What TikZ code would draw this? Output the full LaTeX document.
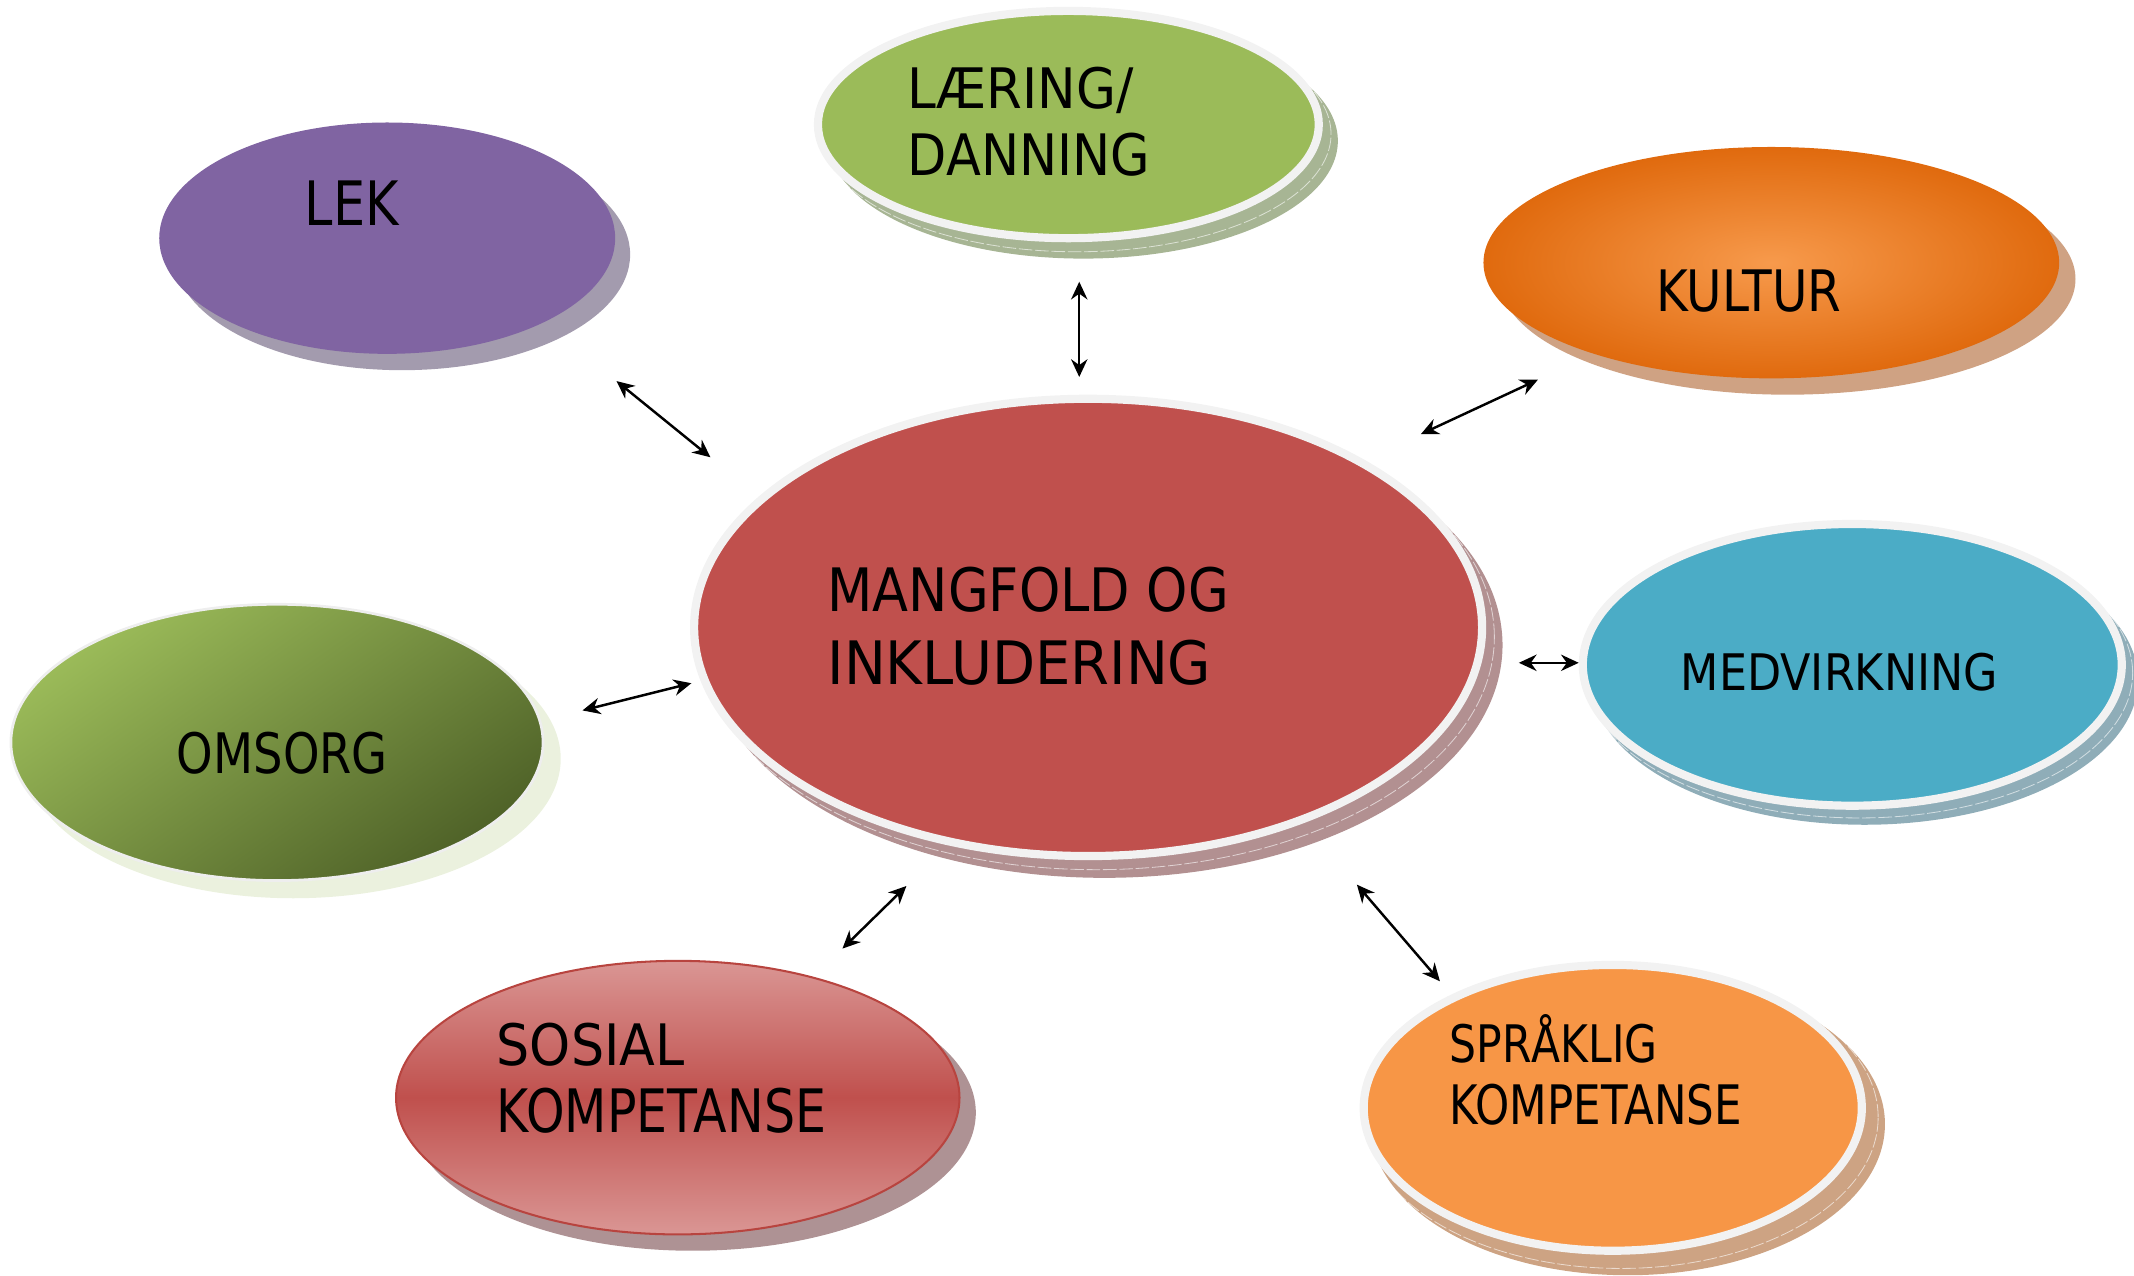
\documentclass[tikz,border=0pt]{standalone}
\usepackage{fontspec}
\usepackage{graphicx}
\setmainfont{DejaVu Sans}
\usetikzlibrary{shapes.geometric,arrows.meta}
\definecolor{lekfill}{HTML}{8064A2}
\definecolor{lekshadow}{HTML}{A39BAE}
\definecolor{laerfill}{HTML}{9BBB59}
\definecolor{laershadow}{HTML}{A7B594}
\definecolor{kulturlight}{HTML}{F79A4C}
\definecolor{kulturdark}{HTML}{E06A0E}
\definecolor{kulturshadow}{HTML}{CFA283}
\definecolor{medvfill}{HTML}{4BACC6}
\definecolor{medvshadow}{HTML}{8FADB8}
\definecolor{omsorglight}{HTML}{9BBB59}
\definecolor{omsorgdark}{HTML}{4F6228}
\definecolor{omsorgshadow}{HTML}{EBF1DE}
\definecolor{omsorgring}{HTML}{EEEEEE}
\definecolor{mangfill}{HTML}{C0504D}
\definecolor{mangshadow}{HTML}{B29091}
\definecolor{soslight}{HTML}{DA9694}
\definecolor{sosmid}{HTML}{C0504D}
\definecolor{sosborder}{HTML}{B8443F}
\definecolor{sosshadow}{HTML}{AE9294}
\definecolor{sprfill}{HTML}{F79646}
\definecolor{sprshadow}{HTML}{CDA383}
\definecolor{ringc}{HTML}{F2F2F2}
\newsavebox\labbox
\newcommand\fitlab[3]{\sbox\labbox{\fontsize{#2pt}{#2pt}\selectfont #3}\scalebox{\fpeval{(#1)/(\the\wd\labbox)}}[1]{\usebox\labbox}}
\begin{document}
\begin{tikzpicture}[x=1pt,y=-1pt,
  blob/.style={ellipse, inner sep=0pt, outer sep=0pt},
  ringed/.style={draw=ringc, line width=6pt},
  stackline/.style={draw=white, draw opacity=0.6, line width=0.6pt, dash pattern=on 10pt off 2pt},
  lbl/.style={anchor=base west, inner sep=0pt, outer sep=0pt, text=black},
  conn/.style={line width=1.8pt, {Stealth[length=13pt,width=12pt]}-{Stealth[length=13pt,width=12pt]}}]
\useasboundingbox (0,0) rectangle (1568,937);

% centres
\coordinate (lekc) at (284.5,175);
\coordinate (laerc) at (785,91.5);
\coordinate (kulturc) at (1301.5,193);
\coordinate (medvc) at (1361,488.5);
\coordinate (omsorgc) at (203.5,545.5);
\coordinate (mangc) at (799.5,461);
\coordinate (sosc) at (498,806.5);
\coordinate (sprc) at (1185,814);

% shadows
\fill[lekshadow] ([shift={(11,12)}]lekc) ellipse [x radius=167.5pt, y radius=85pt];
\fill[laershadow] ([shift={(11,12)}]laerc) ellipse [x radius=187pt, y radius=86.5pt];
\draw[stackline] ([shift={(6,7)}]laerc) ellipse [x radius=187pt, y radius=86.5pt];
\fill[kulturshadow] ([shift={(12,12)}]kulturc) ellipse [x radius=211.5pt, y radius=85pt];
\fill[medvshadow] ([shift={(9,11)}]medvc) ellipse [x radius=201pt, y radius=106.5pt];
\draw[stackline] ([shift={(5,6)}]medvc) ellipse [x radius=201pt, y radius=106.5pt];
\fill[omsorgshadow] ([shift={(12,12)}]omsorgc) ellipse [x radius=196.5pt, y radius=102.5pt];
\fill[mangshadow] ([shift={(12,13)}]mangc) ellipse [x radius=292.5pt, y radius=171pt];
\draw[stackline] ([shift={(6,7)}]mangc) ellipse [x radius=292.5pt, y radius=171pt];
\fill[sosshadow] ([shift={(11,11)}]sosc) ellipse [x radius=208pt, y radius=101.5pt];
\fill[sprshadow] ([shift={(11,12)}]sprc) ellipse [x radius=189pt, y radius=111pt];
\draw[stackline] ([shift={(6,7)}]sprc) ellipse [x radius=189pt, y radius=111pt];

% ellipses
\node[blob, fill=lekfill, minimum width=335pt, minimum height=170pt] (lek) at (lekc) {};
\node[blob, fill=laerfill, ringed, minimum width=368pt, minimum height=167pt] (laer) at (laerc) {};
\node[blob, inner color=kulturlight, outer color=kulturdark, minimum width=423pt, minimum height=170pt] (kultur) at (kulturc) {};
\node[blob, fill=medvfill, ringed, minimum width=396pt, minimum height=207pt] (medv) at (medvc) {};
\node[blob, top color=omsorglight, bottom color=omsorgdark, shading angle=35, draw=omsorgring, line width=2pt, minimum width=391pt, minimum height=203pt] (omsorg) at (omsorgc) {};
\node[blob, fill=mangfill, ringed, minimum width=579pt, minimum height=336pt] (mang) at (mangc) {};
\node[blob, top color=soslight, bottom color=soslight, middle color=sosmid, draw=sosborder, line width=1.5pt, minimum width=414pt, minimum height=201pt] (sos) at (sosc) {};
\node[blob, fill=sprfill, ringed, minimum width=366pt, minimum height=210pt] (spr) at (sprc) {};

% labels
\node[lbl] (leklbl) at (224,166) {\fitlab{69}{45}{LEK}};
\node[lbl] (laerlbla) at (667,80) {\fitlab{166}{41}{LÆRING/}};
\node[lbl] (laerlblb) at (667,129) {\fitlab{178}{42}{DANNING}};
\node[lbl] (kultlbl) at (1217,229) {\fitlab{136}{42}{KULTUR}};
\node[lbl] (manglbla) at (608,449) {\fitlab{295}{44}{MANGFOLD OG}};
\node[lbl] (manglblb) at (608,503) {\fitlab{282}{44}{INKLUDERING}};
\node[lbl] (medvlbl) at (1235,507) {\fitlab{233}{37}{MEDVIRKNING}};
\node[lbl] (omslbl) at (130,568) {\fitlab{155}{41}{OMSORG}};
\node[lbl] (soslbla) at (365,783) {\fitlab{138}{42}{SOSIAL}};
\node[lbl] (soslblb) at (365,832) {\fitlab{242}{44}{KOMPETANSE}};
\node[lbl] (sprlbla) at (1065,781) {\fitlab{153}{38}{SPRÅKLIG}};
\node[lbl] (sprlblb) at (1065,826) {\fitlab{215}{40}{KOMPETANSE}};

% connectors
\coordinate (lekA) at (453,280);   \coordinate (lekB) at (522,336);
\coordinate (laerA) at (793,207);  \coordinate (laerB) at (793,277);
\coordinate (kultA) at (1130,279); \coordinate (kultB) at (1044,319);
\coordinate (medvA) at (1116,487); \coordinate (medvB) at (1160,487);
\coordinate (omsA) at (508,502);   \coordinate (omsB) at (428,522);
\coordinate (sosA) at (666,651);   \coordinate (sosB) at (619,697);
\coordinate (sprA) at (997,650);   \coordinate (sprB) at (1058,721);
\draw[conn] (lekA) -- (lekB);
\draw[conn] (laerA) -- (laerB);
\draw[conn] (kultA) -- (kultB);
\draw[conn] (medvA) -- (medvB);
\draw[conn] (omsA) -- (omsB);
\draw[conn] (sosA) -- (sosB);
\draw[conn] (sprA) -- (sprB);
\end{tikzpicture}
\end{document}
